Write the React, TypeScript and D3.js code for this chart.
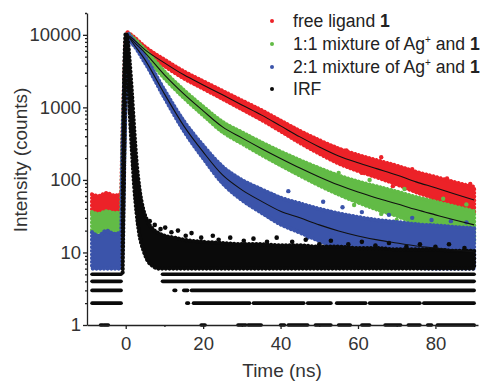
import React, { useEffect, useRef } from "react";
import * as d3 from "d3";

const width = 487;
const height = 381;

const bandTimes = [-8.7, -7, -5, -3, -1.2, -0.9, -0.4, 0.1, 0.5, 1.2, 5, 10, 15, 20, 25, 30, 35, 40, 45, 50, 55, 60, 65, 70, 75, 80, 85, 90];

const redLo = [35, 36, 34, 35, 36, 40, 250, 3000, 9000, 8600, 5650, 3715, 2512, 1816, 1310, 942, 676, 470, 324, 231, 169, 133, 108, 87, 68, 55, 44, 35];
const redHi = [63, 60, 66, 61, 64, 300, 2500, 9500, 10800, 10200, 6830, 4550, 3140, 2297, 1690, 1245, 918, 658, 474, 353, 271, 221, 186, 157, 129, 110, 93, 80];

const greenLo = [19, 19, 19, 19, 19, 22, 200, 2500, 8500, 8200, 5130, 2529, 1361, 780, 459, 318, 223, 159, 115, 84, 63, 49, 39, 32, 25, 21, 17.4, 14.4];
const greenHi = [36, 34, 37, 35, 36, 250, 2200, 9000, 10500, 9800, 6210, 3119, 1733, 1026, 631, 454, 331, 246, 187, 145, 115, 95, 81, 69, 58, 50, 43, 37];

const blueLo = [6, 6, 6, 6, 6, 8, 150, 2000, 8200, 7900, 4110, 1361, 476, 199, 90, 53, 35.4, 24.4, 18.8, 14.4, 11.3, 9.3, 7.9, 7.0, 6.2, 6, 6, 6];
const blueHi = [19, 17, 20, 18, 19, 200, 2000, 8500, 10400, 9500, 4970, 1733, 649, 298, 153, 100, 74.5, 57, 47.5, 40, 34.6, 30.8, 28, 26.3, 24.5, 23.5, 22.5, 21.6];

// fitted decay curves (black lines)
const fitTimes = [0.5, 1.2, 5, 10, 15, 20, 25, 30, 35, 40, 45, 50, 55, 60, 65, 70, 75, 80, 85, 90];
const redFit = [10000, 9400, 6210, 4110, 2810, 2040, 1490, 1080, 788, 556, 392, 285, 214, 172, 142, 117, 94, 78, 64, 53];
const greenFit = [10000, 9000, 5650, 2810, 1535, 896, 538, 380, 272, 198, 146, 110, 85, 68, 56, 47, 39, 33, 28, 24];
const blueFit = [10000, 8700, 4520, 1535, 556, 243, 117, 73, 51, 37, 30, 24, 19.8, 16.9, 14.9, 13.5, 12.3, 11.5, 10.8, 10.2];

// instrument response (IRF)
const irfTimes = [-0.8, -0.4, 0, 0.4, 1, 1.6, 2.2, 2.8, 3.5, 4.5, 5.5, 7, 8.5, 10, 12.5, 15, 20, 25, 30, 35, 40, 45, 50, 55, 60, 65, 70, 75, 80, 85, 90];
const irfLo = [5, 150, 4000, 3500, 900, 250, 80, 35, 18, 11, 8, 6.5, 6, 6, 6, 6, 6, 6, 6, 6, 6, 6, 6, 6, 6, 6, 6, 6, 6, 6, 6];
const irfHi = [40, 2500, 10500, 9500, 4500, 1600, 500, 180, 80, 40, 28, 21, 18.5, 17, 16, 15, 14, 13.5, 13, 13, 12.5, 12.5, 12, 12, 11.5, 11.5, 11, 11, 11, 10.5, 10.5];

// low-count rows of the IRF (integer counts), as time spans
const irfRowLevels = [5, 4, 3, 2, 1];
const irfRowSpans = [
  [[-8.7, -1.2], [9.5, 90]],
  [[-8.7, -1.2], [9.5, 90]],
  [[-8.7, -1.2], [12.5, 12.9], [15, 16], [17, 90]],
  [[-8.7, -1.2], [15.8, 16.2], [17.5, 32], [33, 46], [47, 53], [54.5, 62], [63, 76], [77, 90]],
  [[-6.5, -6], [-5.6, -4.5], [19.5, 20.5], [29, 31], [31.6, 35], [40, 41], [42, 47], [49, 53], [55, 58], [61, 63], [67, 71], [73, 76], [78, 79], [80.5, 90]],
];

// stray points outside the bands
const redStray = [[57, 255], [61, 125], [66, 205], [69, 82], [74, 140], [79, 52], [83, 105], [87, 40], [89, 88]];
const greenStray = [[55, 125], [59, 45], [63, 100], [66, 34], [70, 28], [72, 75], [77, 22], [82, 55], [86, 15], [88, 46]];
const blueStray = [[38, 62], [42, 70], [47, 16], [51, 50], [56, 42], [61, 36], [64, 9], [68, 33], [74, 30], [79, 28], [84, 27], [88, 26]];
const irfStray = [[6.2, 27], [7.5, 24], [9, 21], [10.2, 22], [11.8, 19], [13.5, 20], [15.5, 17], [17, 18.5], [19.5, 16], [22.5, 17], [24, 15], [27, 16], [30.5, 14.5], [33, 15.5], [36.5, 14], [39, 16], [43, 14], [46.5, 15], [50, 13], [53, 14.5], [57.5, 13], [61, 14], [64.5, 12.5], [68, 13.5], [72.5, 12], [76, 13], [80, 12], [83.5, 13], [87.5, 11.5]];

const xTicks = [0, 20, 40, 60, 80];
const xMinor = [10, 30, 50, 70, 90];
const yTicks = [1, 10, 100, 1000, 10000];
const yMinor = [2, 3, 4, 5, 6, 7, 8, 9, 20, 30, 40, 50, 60, 70, 80, 90, 200, 300, 400, 500, 600, 700, 800, 900, 2000, 3000, 4000, 5000, 6000, 7000, 8000, 9000, 20000];

const red = "#ec2228";
const green = "#62bb46";
const blue = "#3b54aa";
const black = "#0a0a0a";
const font = "'Liberation Sans', Arial, sans-serif";

const App = () => {
  const xAxisRef = useRef<SVGGElement>(null);
  const yAxisRef = useRef<SVGGElement>(null);

  const x = d3.scaleLinear().domain([-10, 91]).range([87, 478]);
  const y = d3.scaleLog().domain([1, 20000]).range([325, 13]);

  useEffect(() => {
    const gx = d3.select(xAxisRef.current);
    gx.selectAll("*").remove();
    gx.append("g").call(d3.axisBottom(x).tickValues(xTicks).tickSize(4).tickSizeOuter(0).tickPadding(8).tickFormat(d3.format("d")));
    gx.append("g").call(d3.axisBottom(x).tickValues(xMinor).tickSize(2).tickFormat(() => ""))
      .select(".domain").remove();

    const gy = d3.select(yAxisRef.current);
    gy.selectAll("*").remove();
    gy.append("g").call(d3.axisLeft(y).tickValues(yTicks).tickSize(4).tickSizeOuter(0).tickPadding(2).tickFormat(d3.format("d")));
    gy.append("g").call(d3.axisLeft(y).tickValues(yMinor).tickSize(2).tickFormat(() => ""))
      .select(".domain").remove();

    [gx, gy].forEach(g => {
      g.selectAll("g").attr("font-family", font).attr("font-size", 18.5);
      g.selectAll("text").attr("fill", "#333");
      g.selectAll("line, path").attr("stroke", "#222").attr("stroke-width", 1.3);
    });
  }, []);

  const band = (times: number[], lo: number[], hi: number[]) =>
    d3.area<number>()
      .x((_, i) => x(times[i]))
      .y0((_, i) => y(lo[i]))
      .y1(d => y(d))
      .curve(d3.curveMonotoneX)(hi) || "";

  const fit = (vals: number[]) =>
    d3.line<number>()
      .x((_, i) => x(fitTimes[i]))
      .y(d => y(d))
      .curve(d3.curveMonotoneX)(vals) || "";

  const series = [
    { lo: redLo, hi: redHi, stray: redStray, color: red },
    { lo: greenLo, hi: greenHi, stray: greenStray, color: green },
    { lo: blueLo, hi: blueHi, stray: blueStray, color: blue },
  ];

  const legendRows = [
    { color: red, y: 21 },
    { color: green, y: 44 },
    { color: blue, y: 67 },
    { color: black, y: 89 },
  ];

  // dotted outline gives the band edges a scatter-like texture
  const edge = { strokeWidth: 4.2, strokeDasharray: "0.1 3.6", strokeLinecap: "round" as const };

  return (
    <svg width={width} height={height} style={{ position: "absolute", left: 0, top: 0, background: "#fff" }}>
      {series.map((s, k) => (
        <g key={k}>
          <path d={band(bandTimes, s.lo, s.hi)} fill={s.color} stroke={s.color} {...edge} />
          {s.stray.map((p, i) => (
            <circle key={i} cx={x(p[0])} cy={y(p[1])} r={2.2} fill={s.color} />
          ))}
        </g>
      ))}

      <g>
        <path d={band(irfTimes, irfLo, irfHi)} fill={black} stroke={black} {...edge} />
        {irfRowLevels.map((lv, r) =>
          irfRowSpans[r].map((sp, i) => (
            <line key={r + "-" + i} x1={x(sp[0])} x2={x(sp[1])} y1={y(lv)} y2={y(lv)}
              stroke={black} strokeWidth={3.6} strokeLinecap="round" />
          ))
        )}
        {irfStray.map((p, i) => (
          <circle key={i} cx={x(p[0])} cy={y(p[1])} r={2.3} fill={black} />
        ))}
      </g>

      {[redFit, greenFit, blueFit].map((f, i) => (
        <path key={i} d={fit(f)} fill="none" stroke="#111" strokeWidth={1.1} />
      ))}

      <g ref={xAxisRef} transform="translate(0,325)" />
      <g ref={yAxisRef} transform="translate(87,0)" />

      <text x={282} y={377} textAnchor="middle" fontFamily={font} fontSize={19} fill="#333">Time (ns)</text>
      <text transform="translate(27,160) rotate(-90)" textAnchor="middle" fontFamily={font} fontSize={19} fill="#333">Intensity (counts)</text>

      <g fontFamily={font} fontSize={17.6} fill="#222">
        {legendRows.map((r, i) => (
          <circle key={i} cx={272} cy={r.y} r={2} fill={r.color} />
        ))}
        <text x={293} y={27}>free ligand <tspan fontWeight="bold">1</tspan></text>
        <text x={293} y={50}>1:1 mixture of Ag<tspan dy={-7} fontSize={10}>+</tspan><tspan dy={7}> and </tspan><tspan fontWeight="bold">1</tspan></text>
        <text x={293} y={73}>2:1 mixture of Ag<tspan dy={-7} fontSize={10}>+</tspan><tspan dy={7}> and </tspan><tspan fontWeight="bold">1</tspan></text>
        <text x={293} y={95}>IRF</text>
      </g>
    </svg>
  );
};

export default App;
